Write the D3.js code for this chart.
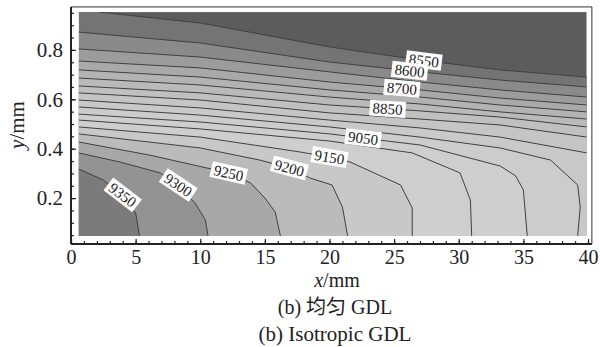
<!DOCTYPE html>
<html>
<head>
<meta charset="utf-8">
<script src="https://cdn.jsdelivr.net/npm/d3@7"></script>
<style>
  body { margin: 0; background: #fff; }
  svg text { font-family: "Liberation Serif", "Times New Roman", "Noto Sans CJK SC", serif; fill: #222; }
</style>
</head>
<body>
<svg id="chart" width="600" height="347"></svg>
<script>
// contour levels (low -> high) and the iso-lines, [x mm, y mm]
const levels = [8550, 8600, 8650, 8700, 8750, 8800, 8850, 8900, 8950,
                9000, 9050, 9100, 9150, 9200, 9250, 9300, 9350];

const c8550 = [[2.2, 0.953], [10.0, 0.909], [20.0, 0.812], [27.0, 0.759], [33.2, 0.719], [39.9, 0.690]];
const c8600 = [[0.6, 0.872], [10.0, 0.828], [20.0, 0.751], [27.0, 0.711], [33.2, 0.678], [39.9, 0.650]];
const c8650 = [[0.6, 0.804], [10.0, 0.771], [20.0, 0.711], [27.0, 0.670], [33.2, 0.638], [39.9, 0.609]];
const c8700 = [[0.6, 0.755], [10.0, 0.727], [20.0, 0.670], [27.0, 0.638], [33.2, 0.605], [39.9, 0.577]];
const c8750 = [[0.6, 0.719], [10.0, 0.690], [20.0, 0.638], [27.0, 0.609], [33.2, 0.577], [39.9, 0.549]];
const c8800 = [[0.6, 0.686], [10.0, 0.658], [20.0, 0.609], [27.0, 0.581], [33.2, 0.549], [39.9, 0.520]];
const c8850 = [[0.6, 0.654], [10.0, 0.626], [20.0, 0.577], [27.0, 0.553], [33.2, 0.528], [39.9, 0.488]];
const c8900 = [[0.6, 0.626], [10.0, 0.597], [20.0, 0.545], [27.0, 0.520], [33.2, 0.496], [39.9, 0.447]];
const c8950 = [[0.6, 0.597], [10.0, 0.565], [20.0, 0.516], [27.0, 0.484], [33.2, 0.447], [39.9, 0.383]];
const c9000 = [[0.6, 0.569], [10.0, 0.536], [20.0, 0.488], [27.0, 0.447], [33.2, 0.403], [37.1, 0.354], [39.2, 0.253], [39.4, 0.164], [39.2, 0.047]];
const c9050 = [[0.6, 0.540], [10.0, 0.508], [20.0, 0.460], [22.6, 0.443], [27.0, 0.415], [33.2, 0.330], [34.4, 0.290], [35.0, 0.233], [35.3, 0.047]];
const c9100 = [[0.6, 0.516], [10.0, 0.480], [20.0, 0.431], [26.4, 0.383], [30.1, 0.302], [30.9, 0.192], [31.0, 0.047]];
const c9150 = [[0.6, 0.488], [10.0, 0.447], [17.7, 0.387], [20.0, 0.366], [21.6, 0.346], [25.5, 0.253], [26.4, 0.160], [26.4, 0.047]];
const c9200 = [[0.6, 0.460], [10.0, 0.403], [14.6, 0.354], [16.9, 0.322], [18.5, 0.281], [20.2, 0.253], [21.0, 0.164], [21.4, 0.047]];
const c9250 = [[0.6, 0.427], [6.1, 0.374], [12.2, 0.302], [13.9, 0.261], [15.0, 0.200], [15.8, 0.144], [16.2, 0.047]];
const c9300 = [[0.6, 0.383], [3.8, 0.346], [6.9, 0.302], [8.3, 0.253], [9.6, 0.180], [10.4, 0.111], [10.6, 0.047]];
const c9350 = [[0.6, 0.318], [2.5, 0.273], [4.0, 0.213], [5.0, 0.140], [5.3, 0.047]];

const contourLines = [c8550, c8600, c8650, c8700, c8750, c8800, c8850, c8900, c8950,
                      c9000, c9050, c9100, c9150, c9200, c9250, c9300, c9350];

// which contours carry an inline label, and at what x (mm)
const labelLevels = [8550, 8600, 8700, 8850, 9050, 9150, 9200, 9250, 9300, 9350];
const labelAtX    = [27.3, 26.2, 25.6, 24.5, 22.6, 20.0, 16.9, 12.2, 8.3, 4.0];

const xTicks = [0, 5, 10, 15, 20, 25, 30, 35, 40];
const yTicks = [0.2, 0.4, 0.6, 0.8];

// grey of each band: below 8550, 8550-8600, ..., above 9350
const bandGray = ["#5c5c5c", "#747474", "#8a8a8a", "#9c9c9c", "#a9a9a9", "#b3b3b3",
                  "#bababa", "#c0c0c0", "#c5c5c5", "#c9c9c9", "#cccccc", "#cecece",
                  "#cecece", "#c8c8c8", "#bbbbbb", "#a8a8a8", "#939393", "#7b7b7b"];

const fillX = [0.6, 39.9], fillY = [0.047, 0.953];   // shaded area
const frameX = [0, 40.3], frameY = [0.014, 0.974];   // axes frame

const svg = d3.select("#chart");
const x = d3.scaleLinear().domain([0, 40]).range([71, 588]);
const y = d3.scaleLinear().domain([0, 1]).range([247.5, 0.5]);
const line = d3.line().x(d => x(d[0])).y(d => y(d[1]));

svg.append("clipPath").attr("id", "plotClip")
  .append("rect")
  .attr("x", x(fillX[0])).attr("y", y(fillY[1]))
  .attr("width", x(fillX[1]) - x(fillX[0]))
  .attr("height", y(fillY[0]) - y(fillY[1]));

const plot = svg.append("g").attr("clip-path", "url(#plotClip)");

plot.append("rect")
  .attr("x", x(fillX[0])).attr("y", y(fillY[1]))
  .attr("width", x(fillX[1]) - x(fillX[0]))
  .attr("height", y(fillY[0]) - y(fillY[1]))
  .attr("fill", bandGray[0]);

// region T >= level is on the lower-left side of each line
contourLines.forEach((pts, i) => {
  const poly = pts.slice();
  const first = pts[0], last = pts[pts.length - 1];
  if (last[0] >= fillX[1]) poly.push([fillX[1], fillY[0]]);
  poly.push([fillX[0], fillY[0]]);
  if (first[1] >= fillY[1]) poly.push([fillX[0], fillY[1]]);
  plot.append("path")
    .attr("d", line(poly) + "Z")
    .attr("fill", bandGray[i + 1]);
});

plot.selectAll(".iso")
  .data(contourLines)
  .enter()
  .append("path")
  .attr("class", "iso")
  .attr("d", line)
  .attr("fill", "none")
  .attr("stroke", "#404040")
  .attr("stroke-width", 1);

// inline labels
labelLevels.forEach((lev, k) => {
  const pts = contourLines[levels.indexOf(lev)];
  const lx = labelAtX[k];
  let j = 0;
  while (j < pts.length - 2 && !(lx >= pts[j][0] && lx <= pts[j + 1][0])) j++;
  const p0 = pts[j], p1 = pts[j + 1];
  const t = (lx - p0[0]) / (p1[0] - p0[0]);
  const px = x(lx), py = y(p0[1] + t * (p1[1] - p0[1]));
  const ang = Math.atan2(y(p1[1]) - y(p0[1]), x(p1[0]) - x(p0[0])) * 180 / Math.PI;

  const g = plot.append("g").attr("transform", `translate(${px},${py}) rotate(${ang})`);
  const box = g.append("rect").attr("fill", "#fff");
  const txt = g.append("text")
    .attr("text-anchor", "middle")
    .attr("dy", "0.35em")
    .style("font-size", "15px")
    .text(lev);
  const w = txt.node().getComputedTextLength() + 6;
  box.attr("x", -w / 2).attr("y", -8).attr("width", w).attr("height", 16);
});

// frame
const fx0 = x(frameX[0]), fx1 = x(frameX[1]), fy0 = y(frameY[0]), fy1 = y(frameY[1]);
svg.append("line").attr("x1", fx0).attr("x2", fx1).attr("y1", fy1).attr("y2", fy1)
  .attr("stroke", "#333").attr("stroke-width", 1);
svg.append("line").attr("x1", fx1).attr("x2", fx1).attr("y1", fy1).attr("y2", fy0)
  .attr("stroke", "#333").attr("stroke-width", 1);

// axes, ticks pointing inward
const axisFont = g => g.selectAll("text").style("font-size", "20px").attr("fill", "#222");

svg.append("g")
  .attr("transform", `translate(0,${fy0})`)
  .call(d3.axisBottom(x).tickValues(d3.range(0, 41, 1)).tickSize(-3).tickFormat(""))
  .call(g => g.select(".domain").remove());
svg.append("g")
  .attr("transform", `translate(0,${fy0})`)
  .call(d3.axisBottom(x).tickValues(xTicks).tickSize(-5).tickPadding(6))
  .call(g => g.select(".domain").remove())
  .call(axisFont);

svg.append("g")
  .attr("transform", `translate(${fx0},0)`)
  .call(d3.axisLeft(y).tickValues(d3.range(0.05, 0.96, 0.05)).tickSize(-3).tickFormat(""))
  .call(g => g.select(".domain").remove());
svg.append("g")
  .attr("transform", `translate(${fx0},0)`)
  .call(d3.axisLeft(y).tickValues(yTicks).tickSize(-5).tickPadding(8).tickFormat(d3.format(".1f")))
  .call(g => g.select(".domain").remove())
  .call(axisFont)
  .call(g => g.selectAll("text").style("font-size", "21px"));

svg.selectAll(".tick line").attr("stroke", "#222").attr("stroke-width", 1.2);

svg.append("line").attr("x1", fx0).attr("x2", fx1).attr("y1", fy0).attr("y2", fy0)
  .attr("stroke", "#222").attr("stroke-width", 2);
svg.append("line").attr("x1", fx0).attr("x2", fx0).attr("y1", fy1).attr("y2", fy0)
  .attr("stroke", "#222").attr("stroke-width", 2);

// axis titles
const yt = svg.append("text")
  .attr("transform", "translate(24,125) rotate(-90)")
  .attr("text-anchor", "middle")
  .style("font-size", "21px");
yt.append("tspan").style("font-style", "italic").text("y");
yt.append("tspan").text("/mm");

const xt = svg.append("text")
  .attr("x", 337).attr("y", 287)
  .attr("text-anchor", "middle")
  .style("font-size", "20px");
xt.append("tspan").style("font-style", "italic").text("x");
xt.append("tspan").text("/mm");

svg.append("text").attr("x", 335).attr("y", 314).attr("text-anchor", "middle")
  .style("font-size", "20px").text("(b) 均匀 GDL");
svg.append("text").attr("x", 335).attr("y", 341).attr("text-anchor", "middle")
  .style("font-size", "21px").text("(b) Isotropic GDL");
</script>
</body>
</html>
